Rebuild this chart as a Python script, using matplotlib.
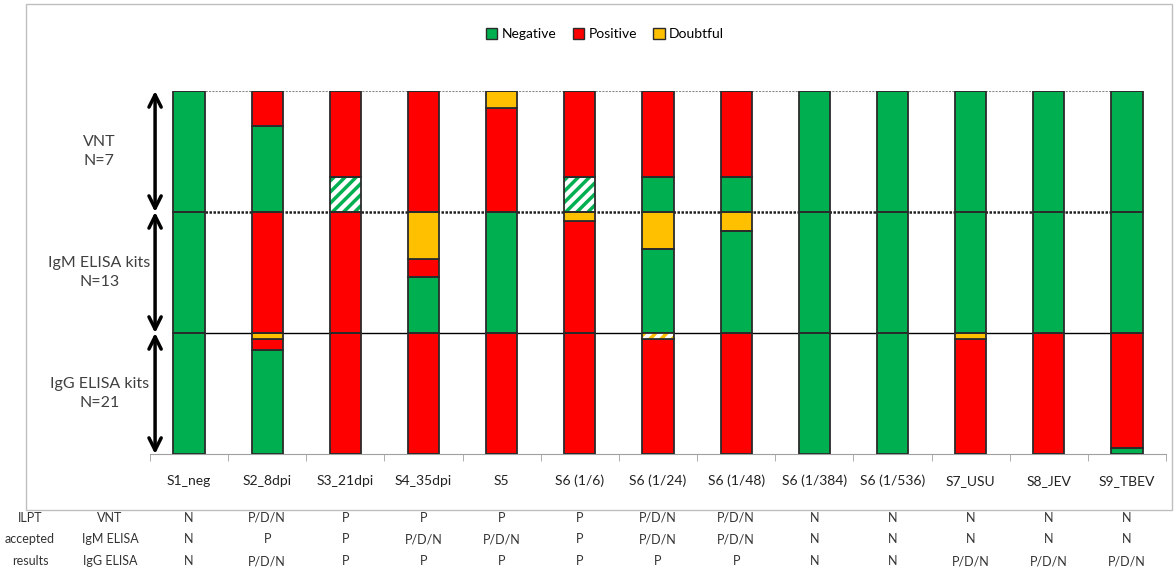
import numpy as np
import matplotlib
matplotlib.use("Agg")
import matplotlib.pyplot as plt
import matplotlib.transforms as mtransforms
from matplotlib.patches import Patch, Rectangle

plt.rcParams['font.family'] = ['Lato', 'DejaVu Sans']
plt.rcParams['hatch.linewidth'] = 2.5

# categorias (mostres)
samples = ['S1_neg', 'S2_8dpi', 'S3_21dpi', 'S4_35dpi', 'S5', 'S6 (1/6)', 'S6 (1/24)',
           'S6 (1/48)', 'S6 (1/384)', 'S6 (1/536)', 'S7_USU', 'S8_JEV', 'S9_TBEV']

# seccions: nom, N
sections = ['VNT\nN=7', 'IgM ELISA kits\nN=13', 'IgG ELISA kits\nN=21']
n_labs = [7, 13, 21]

# comptes per seccio (VNT, IgM, IgG)
neg = [
    [7, 5, 0, 0, 0, 0, 2, 2, 7, 7, 7, 7, 7],
    [13, 0, 0, 6, 13, 0, 9, 11, 13, 13, 13, 13, 13],
    [21, 18, 0, 0, 0, 0, 0, 0, 21, 21, 0, 0, 1],
]
neg_hatch = [
    [0, 0, 2, 0, 0, 2, 0, 0, 0, 0, 0, 0, 0],
    [0] * 13,
    [0] * 13,
]
pos = [
    [0, 2, 5, 7, 6, 5, 5, 5, 0, 0, 0, 0, 0],
    [0, 13, 13, 2, 0, 12, 0, 0, 0, 0, 0, 0, 0],
    [0, 2, 21, 21, 21, 21, 20, 21, 0, 0, 20, 21, 20],
]
dbt = [
    [0, 0, 0, 0, 1, 0, 0, 0, 0, 0, 0, 0, 0],
    [0, 0, 0, 5, 0, 1, 4, 2, 0, 0, 0, 0, 0],
    [0, 1, 0, 0, 0, 0, 0, 0, 0, 0, 1, 0, 0],
]
dbt_hatch = [
    [0] * 13,
    [0] * 13,
    [0, 0, 0, 0, 0, 0, 1, 0, 0, 0, 0, 0, 0],
]

# resultats acceptats ILPT
row_names = ['VNT', 'IgM ELISA', 'IgG ELISA']
row_left = ['ILPT', 'accepted', 'results']
accepted = [
    ['N', 'P/D/N', 'P', 'P', 'P', 'P', 'P/D/N', 'P/D/N', 'N', 'N', 'N', 'N', 'N'],
    ['N', 'P', 'P', 'P/D/N', 'P/D/N', 'P', 'P/D/N', 'P/D/N', 'N', 'N', 'N', 'N', 'N'],
    ['N', 'P/D/N', 'P', 'P', 'P', 'P', 'P', 'P', 'N', 'N', 'P/D/N', 'P/D/N', 'P/D/N'],
]

GREEN = '#00B050'
RED = '#FF0000'
YELLOW = '#FFC000'
EDGE = '#2b2b2b'

W, H = 1176, 574
fig = plt.figure(figsize=(W / 100, H / 100), dpi=100)
ax = fig.add_axes([150 / W, 1 - 454 / H, (1166 - 150) / W, (454 - 91) / H])

x = np.arange(len(samples))
bw = 0.4

# seccions apilades: IgG a baix, VNT a dalt
for s in range(3):
    base = 2 - s
    bottom = np.full(len(samples), float(base))
    layers = [(neg[s], GREEN, False), (neg_hatch[s], GREEN, True),
              (pos[s], RED, False), (dbt[s], YELLOW, False), (dbt_hatch[s], YELLOW, True)]
    for counts, col, hatched in layers:
        h = np.array(counts) / n_labs[s]
        if hatched:
            ax.bar(x, h, bw, bottom=bottom, color='white', edgecolor=col,
                   hatch='///', linewidth=0, zorder=3)
            ax.bar(x, h, bw, bottom=bottom, fill=False, edgecolor=EDGE,
                   linewidth=1.3, zorder=4)
        else:
            ax.bar(x, h, bw, bottom=bottom, color=col, edgecolor=EDGE,
                   linewidth=1.3, zorder=3)
        bottom = bottom + h

# linies de seccio
ax.hlines(1, 0, len(samples) - 1, color='black', lw=1, zorder=1)
ax.hlines(2, 0, len(samples) - 1, color='#222222', lw=1.8, ls=(0, (1, 0.6)), zorder=1)
ax.hlines(3, 0, len(samples) - 1, color='#888888', lw=1.5, ls=(0, (1, 0.6)), zorder=1)

# fletxes i etiquetes
for s in range(3):
    top, bot = 3 - s, 2 - s
    ax.annotate('', xy=(-0.435, bot), xytext=(-0.435, top),
                arrowprops=dict(arrowstyle='<->', lw=2.5, color='black',
                                mutation_scale=22, shrinkA=0, shrinkB=0),
                annotation_clip=False)
    ax.text(-1.15, top - 0.5, sections[s], ha='center', va='center',
            fontsize=11.5, color='#404040', linespacing=1.5, clip_on=False)

ax.set_xlim(-0.5, len(samples) - 0.5)
ax.set_ylim(0, 3)
for sp in ['top', 'left', 'right']:
    ax.spines[sp].set_visible(False)
ax.spines['bottom'].set_color('#A0A0A0')
ax.set_yticks([])
ax.set_xticks(x)
ax.set_xticklabels(samples, fontsize=10, color='#222222')
ax.tick_params(axis='x', which='major', length=0, pad=15)
ax.set_xticks(np.arange(len(samples) + 1) - 0.5, minor=True)
ax.tick_params(axis='x', which='minor', length=5, color='#A0A0A0')

# llegenda
handles = [Patch(facecolor=GREEN, edgecolor=EDGE, label='Negative'),
           Patch(facecolor=RED, edgecolor=EDGE, label='Positive'),
           Patch(facecolor=YELLOW, edgecolor=EDGE, label='Doubtful')]
fig.legend(handles=handles, loc='center', bbox_to_anchor=(605 / W, 1 - 34 / H),
           ncol=3, frameon=False, fontsize=10, handlelength=0.8, handleheight=0.8,
           handletextpad=0.3, columnspacing=1.2)

# marc del grafic
fig.patches.append(Rectangle((26 / W, 1 - 510 / H), (1172 - 26) / W, (510 - 4) / H,
                             transform=fig.transFigure, fill=False,
                             edgecolor='#BFBFBF', lw=1))

# taula inferior
trans = mtransforms.blended_transform_factory(ax.transData, fig.transFigure)
row_y = [518, 539, 561]
for r in range(3):
    yy = 1 - row_y[r] / H
    fig.text(30 / W, yy, row_left[r], ha='center', va='center', fontsize=9, color='#333333')
    fig.text(110 / W, yy, row_names[r], ha='center', va='center', fontsize=9, color='#333333')
    for i, v in enumerate(accepted[r]):
        ax.text(i, yy, v, transform=trans, ha='center', va='center',
                fontsize=9, color='#333333', clip_on=False)

fig.savefig('out.png', dpi=100)
